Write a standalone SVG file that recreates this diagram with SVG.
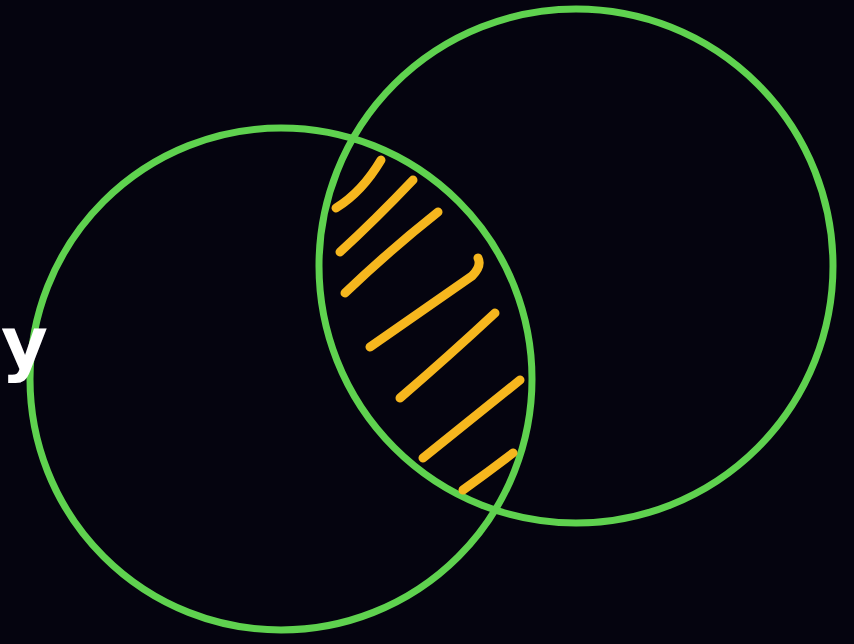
<svg xmlns="http://www.w3.org/2000/svg" width="854" height="644" viewBox="0 0 854 644">
<style>
.c{fill:none;stroke:#5fd24f;stroke-width:7}
.h{fill:none;stroke:#f6b71e;stroke-width:9;stroke-linecap:round}
.t{fill:#ffffff;font-family:"DejaVu Sans",sans-serif;font-size:72px;font-weight:bold}
</style>
<rect width="854" height="644" fill="#05040f"/>
<g id="setA"><circle class="c" cx="281" cy="379" r="251"/></g>
<g id="setB"><circle class="c" cx="576" cy="266" r="257"/></g>
<g id="hatch">
<path class="h" d="M381,160 Q362,192 336,208"/>
<path class="h" d="M413,180 Q375,220 340,252"/>
<path class="h" d="M438,212 Q390,250 345,293"/>
<path class="h" d="M478,258 Q482,266 472,276 Q420,312 370,347"/>
<path class="h" d="M495,313 Q450,355 400,398"/>
<path class="h" d="M520,380 Q470,420 423,458"/>
<path class="h" d="M513,453 Q488,472 463,490"/>
</g>
<g id="label"><text class="t" x="1" y="368">y</text></g>
</svg>
